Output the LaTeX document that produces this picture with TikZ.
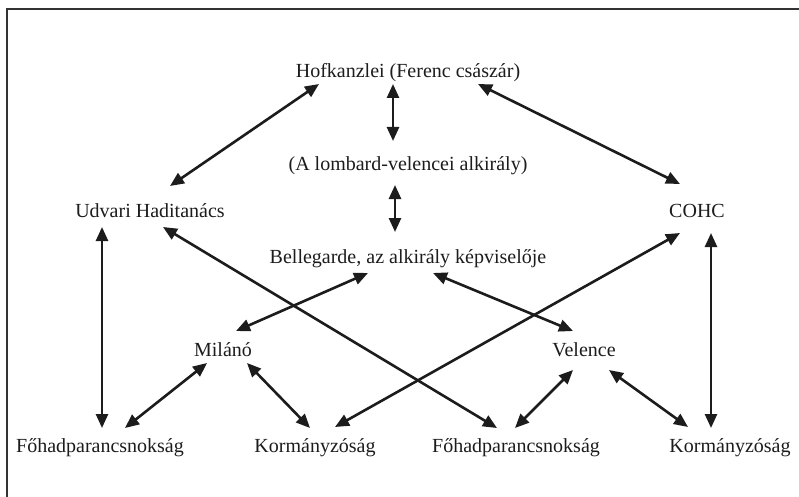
\documentclass[tikz,border=0pt]{standalone}
\usepackage{fontspec}
\setmainfont{Liberation Serif}
\usetikzlibrary{arrows.meta}
\definecolor{ink}{RGB}{28,28,28}
\begin{document}
\begin{tikzpicture}[x=1pt,y=-1pt,
  lbl/.style={anchor=base,inner sep=0pt,font=\fontsize{20}{24}\selectfont,text=ink},
  link/.style={draw=ink,line width=2.6pt,{Triangle[length=14pt,width=12pt]}-{Triangle[length=14pt,width=12pt]}},
  frameline/.style={draw=ink!90,line width=2pt}]
\useasboundingbox (0,0) rectangle (799,497);
\draw[frameline] (6.5,497) -- (6.5,9.5) -- (799,9.5);
% nodes
\node[lbl] (hof) at (408,78) {Hofkanzlei (Ferenc császár)};
\node[lbl] (alk) at (408,171) {(A lombard-velencei alkirály)};
\node[lbl] (udv) at (150,217) {Udvari Haditanács};
\node[lbl] (cohc) at (697,217) {COHC};
\node[lbl] (bel) at (408,263) {Bellegarde, az alkirály képviselője};
\node[lbl] (mil) at (223,356) {Milánó};
\node[lbl] (vel) at (584,356) {Velence};
\node[lbl] (fl) at (100,452) {Főhadparancsnokság};
\node[lbl] (kl) at (315,452) {Kormányzóság};
\node[lbl] (fr) at (516,452) {Főhadparancsnokság};
\node[lbl] (kr) at (730,452) {Kormányzóság};
% connector end points
\coordinate (hof-u) at (319,84);   \coordinate (udv-h) at (170,186);
\coordinate (hof-a) at (393,84);   \coordinate (alk-h) at (393,141);
\coordinate (hof-c) at (478,84);   \coordinate (cohc-h) at (680,184);
\coordinate (alk-b) at (395,185);  \coordinate (bel-a) at (395,232);
\coordinate (udv-fl) at (102,227); \coordinate (fl-u) at (102,428);
\coordinate (udv-fr) at (163,227); \coordinate (fr-u) at (497,428);
\coordinate (cohc-kl) at (680,233);\coordinate (kl-c) at (335,427);
\coordinate (cohc-kr) at (711,233);\coordinate (kr-c) at (711,428);
\coordinate (bel-m) at (368,273);  \coordinate (mil-b) at (236,331);
\coordinate (bel-v) at (433,273);  \coordinate (vel-b) at (573,331);
\coordinate (mil-f) at (207,363);  \coordinate (fl-m) at (125,428);
\coordinate (mil-k) at (247,363);  \coordinate (kl-m) at (310,428);
\coordinate (vel-f) at (573,370);  \coordinate (fr-v) at (515,428);
\coordinate (vel-k) at (609,370);  \coordinate (kr-v) at (688,427);
% connectors
\draw[link] (hof-u) -- (udv-h);
\draw[link] (hof-a) -- (alk-h);
\draw[link] (hof-c) -- (cohc-h);
\draw[link] (alk-b) -- (bel-a);
\draw[link] (udv-fl) -- (fl-u);
\draw[link] (udv-fr) -- (fr-u);
\draw[link] (cohc-kl) -- (kl-c);
\draw[link] (cohc-kr) -- (kr-c);
\draw[link] (bel-m) -- (mil-b);
\draw[link] (bel-v) -- (vel-b);
\draw[link] (mil-f) -- (fl-m);
\draw[link] (mil-k) -- (kl-m);
\draw[link] (vel-f) -- (fr-v);
\draw[link] (vel-k) -- (kr-v);
\end{tikzpicture}
\end{document}
